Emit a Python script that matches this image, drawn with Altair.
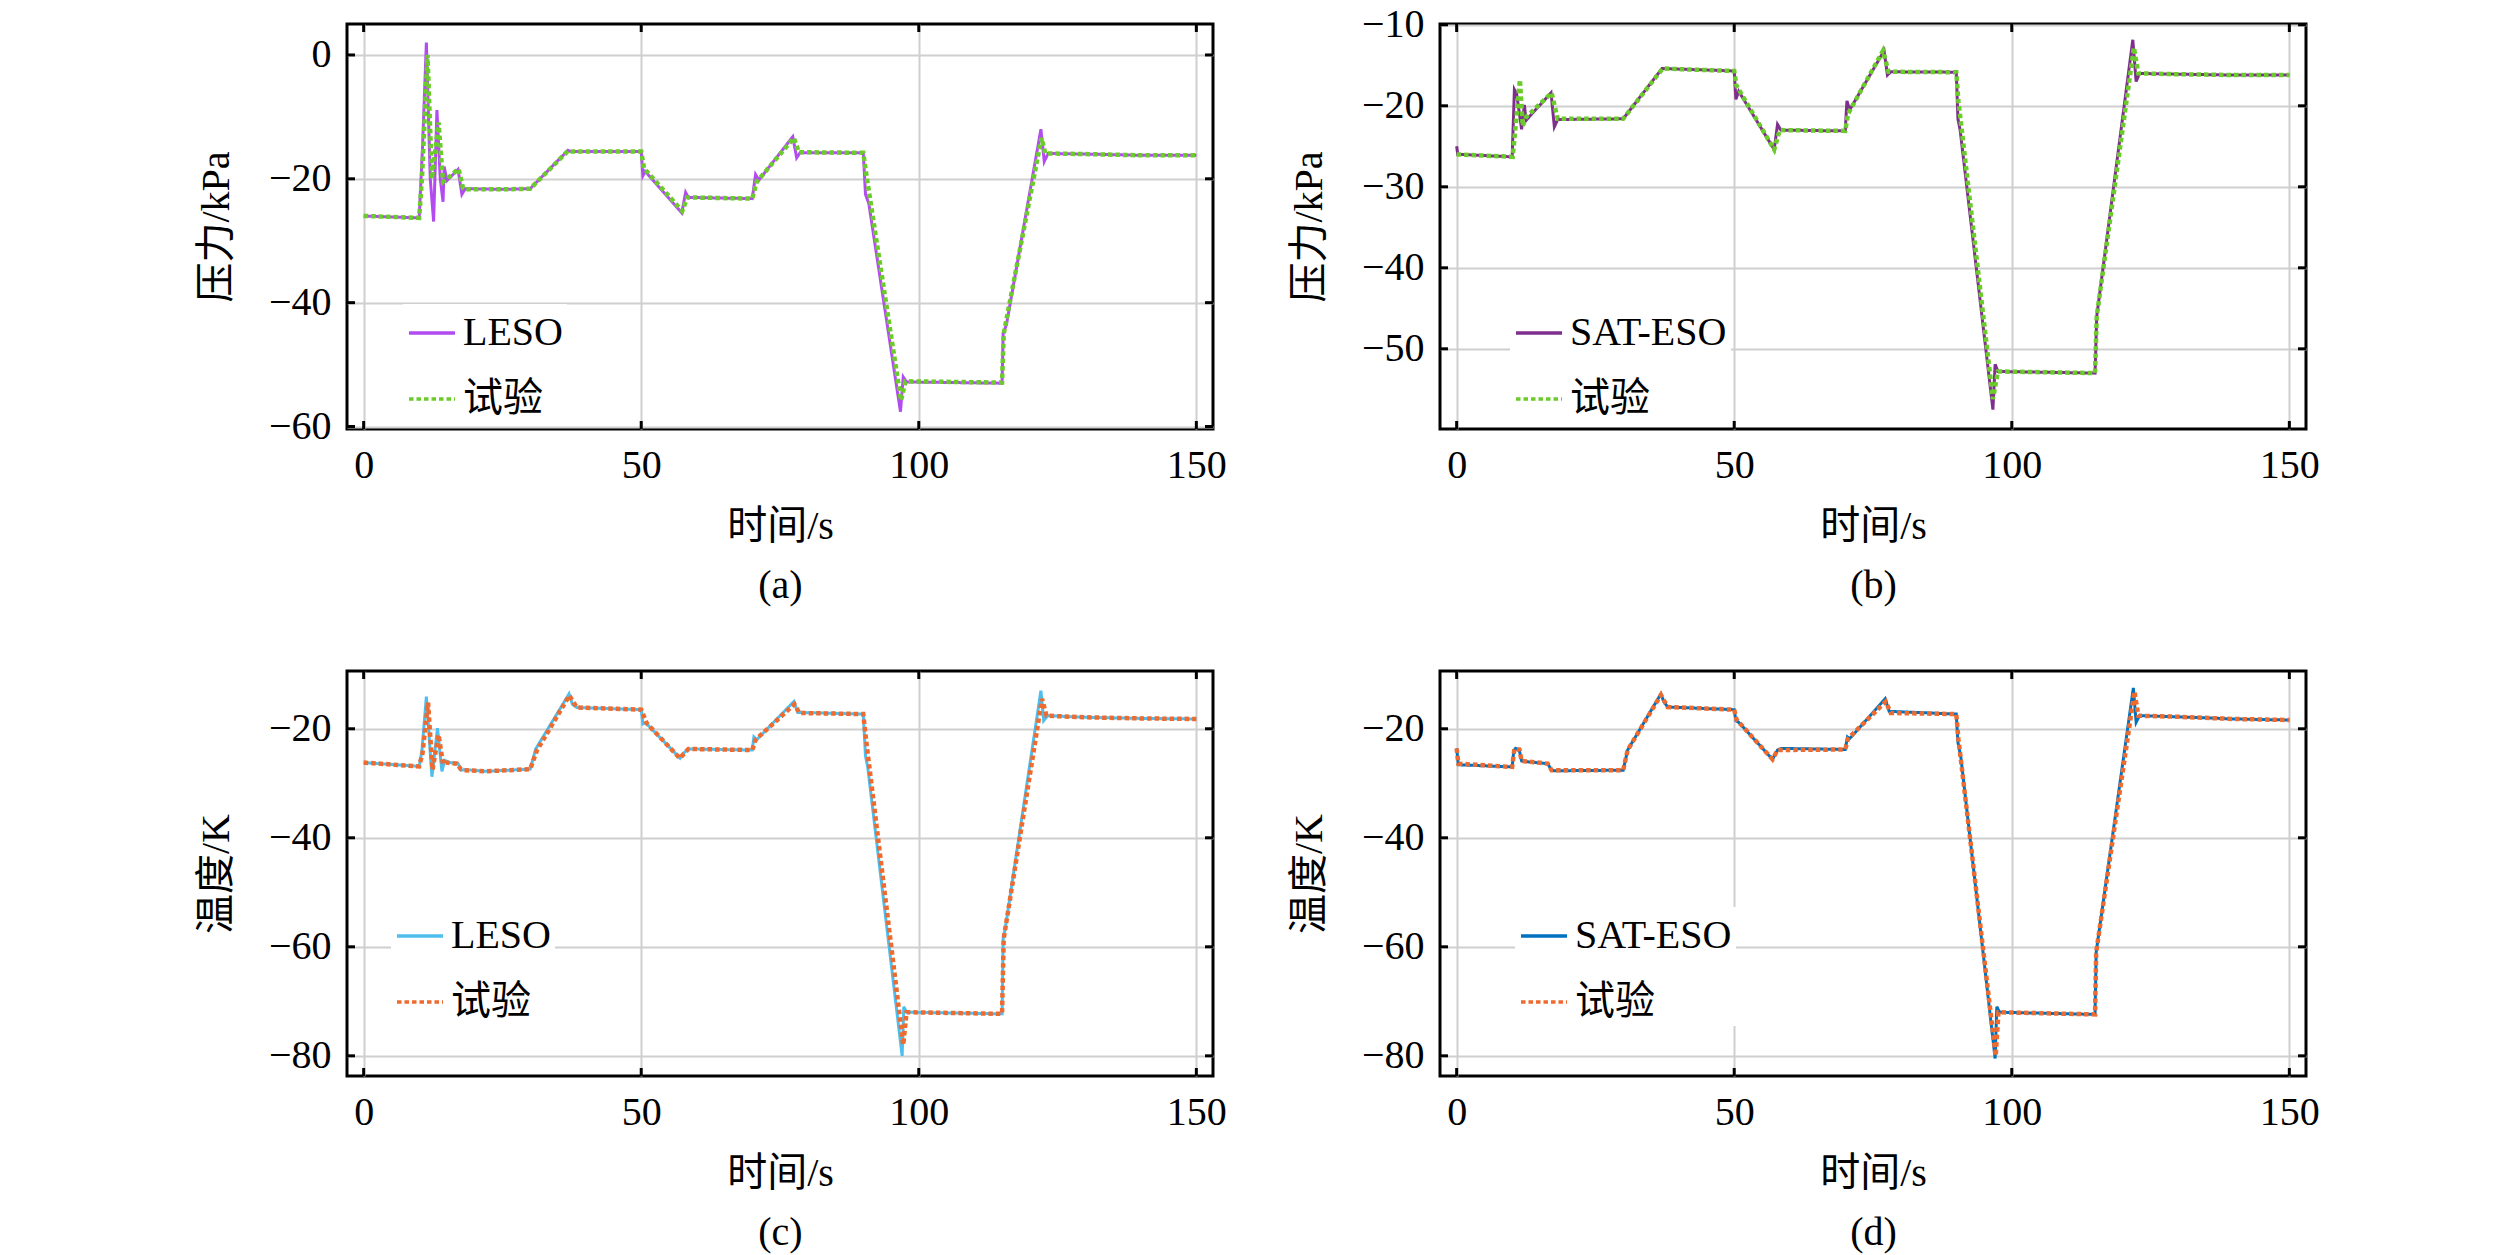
import altair as alt
import pandas as pd

FONT = "Liberation Serif, Noto Sans CJK SC"

# 时间刻度
x_ticks = [0, 50, 100, 150]

# (a) 压力 LESO / 试验
a_est_t = [0, 10, 10.6, 11.3, 12.0, 12.6, 13.2, 13.8, 14.3, 14.5, 15.0, 17.0, 17.7, 18.3, 25, 30, 36.8, 37.3,
           50, 50.3, 50.7, 57.3, 58.0, 58.5, 70, 70.6, 71.2, 77.3, 78.0, 78.6, 90, 90.4, 91, 96.7, 97.2, 97.8,
           115, 115.2, 115.8, 122.0, 122.6, 123.3, 130, 140, 150]
a_est_v = [-26.0, -26.3, -15, 2.0, -20, -26.9, -8.9, -20, -23.7, -18.0, -20.3, -18.5, -22.5, -21.6, -21.7, -21.6,
           -15.4, -15.6, -15.6, -19.5, -18.8, -25.5, -22.2, -23.0, -23.2, -19.3, -20.2, -13.2, -16.6, -15.8,
           -15.8, -22.5, -24, -57.6, -52.0, -52.8, -53.0, -45.0, -43.5, -12.0, -17.2, -15.9, -16.0, -16.2, -16.2]
a_exp_t = [0, 10, 10.5, 11.5, 12.3, 13.5, 14.3, 15.0, 17.1, 17.9, 18.4, 25, 30, 36.8, 37.5, 50, 50.5, 57.4, 58.3,
           70, 70.8, 77.5, 78.4, 90, 90.5, 96.8, 97.6, 115, 115.3, 122.1, 122.8, 130, 140, 150]
a_exp_v = [-26.0, -26.3, -20, 0, -20, -10.9, -20.5, -20.0, -18.4, -21.5, -21.7, -21.7, -21.6, -15.5, -15.6,
           -15.6, -18.3, -25.2, -23.0, -23.2, -20.5, -13.4, -15.7, -15.8, -19.0, -55.8, -52.7, -52.9, -45,
           -13.4, -15.9, -16.0, -16.2, -16.2]

# (b) 压力 SAT-ESO / 试验
b_est_t = [0, 0.2, 0.6, 10, 10.4, 10.8, 11.7, 12.2, 12.5, 13.0, 17.0, 17.6, 18.2, 30, 37.0, 50, 50.3, 50.8,
           57.2, 57.8, 58.4, 70, 70.3, 70.8, 77.0, 77.6, 78.2, 90, 90.3, 90.7, 96.6, 97.0, 97.5, 115, 115.3,
           121.8, 122.4, 123.0, 130, 140, 150]
b_est_v = [-25.0, -26.0, -26.0, -26.3, -18.0, -18.5, -22.9, -19.9, -21.8, -21.4, -18.4, -22.6, -21.7, -21.6,
           -15.4, -15.7, -19.2, -18.2, -25.4, -22.3, -23.0, -23.1, -19.4, -20.5, -13.2, -16.2, -15.8, -15.85,
           -21.6, -23, -57.5, -51.9, -52.8, -53.0, -46, -11.85, -17.0, -16.0, -16.1, -16.2, -16.2]
b_exp_t = [0, 10.1, 11.4, 11.9, 12.5, 17.1, 18.2, 30, 37.1, 50, 50.4, 57.2, 58.2, 70, 70.5, 76.8, 77.8, 90,
           90.4, 96.6, 97.5, 115, 115.3, 122.0, 122.8, 130, 140, 150]
b_exp_v = [-26.0, -26.3, -16.8, -22.5, -21.4, -18.4, -21.6, -21.6, -15.4, -15.7, -17.5, -25.4, -23.0, -23.1,
           -21, -13.2, -15.8, -15.85, -19.5, -56.2, -52.8, -53.0, -46, -12.8, -16.0, -16.1, -16.2, -16.2]

# (c) 温度 LESO / 试验
c_est_t = [0, 10, 10.5, 11.3, 12.3, 13.3, 14.1, 14.6, 15.5, 17.0, 17.6, 18.2, 22, 30, 31, 37.0, 37.6, 38.4,
           50, 50.3, 50.8, 57.0, 57.6, 58.5, 70, 70.3, 70.8, 77.5, 78.2, 90, 90.4, 90.8, 97.0, 97.3, 97.8,
           115, 115.2, 115.6, 122.0, 122.5, 123.2, 130, 140, 150]
c_est_v = [-26.2, -26.9, -24, -14.1, -28.8, -19.9, -27.8, -25.8, -26.2, -26.4, -27.6, -27.5, -27.8, -27.4,
           -23.7, -13.6, -15.5, -16.1, -16.5, -19.1, -18.9, -25.4, -24.5, -23.7, -23.9, -21.5, -22.0, -15.0,
           -17.0, -17.3, -25, -27, -80.0, -71.0, -72.0, -72.3, -58.5, -56.5, -13.0, -18.5, -17.6, -17.9,
           -18.1, -18.2]
c_exp_t = [0, 10, 10.6, 11.6, 12.4, 13.5, 14.3, 14.8, 16.8, 17.5, 18.0, 22, 30, 31.2, 37.05, 38.4, 50, 51,
           56.95, 58.5, 70, 70.6, 77.6, 78.5, 90, 90.5, 97.2, 97.8, 115, 115.3, 122.2, 123.0, 130, 140, 150]
c_exp_v = [-26.2, -26.9, -24.5, -15.2, -27.5, -21.1, -26.5, -26.2, -26.4, -27.4, -27.6, -27.8, -27.4, -24.0,
           -13.9, -16.1, -16.5, -19.0, -25.4, -23.7, -23.9, -22, -15.5, -17.1, -17.3, -22, -78.0, -72.0,
           -72.3, -58.5, -14.5, -17.6, -17.9, -18.1, -18.2]

# (d) 温度 SAT-ESO / 试验
d_est_t = [0, 0.3, 10, 10.3, 10.6, 11.3, 11.7, 12.2, 16.4, 17.1, 17.6, 30, 30.8, 36.8, 37.3, 38, 50, 50.3,
           50.8, 56.9, 57.8, 58.5, 70, 70.4, 70.8, 77.2, 77.9, 90, 90.3, 90.8, 97.0, 97.3, 97.8, 115, 115.2,
           121.9, 122.4, 123.0, 130, 140, 150]
d_est_v = [-23.6, -26.6, -27.0, -24, -23.6, -24.0, -25.9, -26.0, -26.4, -27.6, -27.7, -27.6, -23.9, -13.6,
           -15.0, -16.0, -16.5, -18.5, -18.8, -25.6, -23.9, -23.6, -23.8, -21.5, -21.8, -14.5, -16.8, -17.3,
           -22.5, -25, -80.5, -71.0, -72.0, -72.4, -61, -12.5, -18.8, -17.6, -17.8, -18.2, -18.4]
d_exp_t = [0, 0.3, 10, 10.4, 11.3, 11.7, 16.4, 17.1, 30, 30.8, 36.8, 38, 50, 50.4, 56.9, 57.8, 70, 70.5, 77.3,
           78.2, 90, 90.4, 97.1, 97.6, 115, 115.2, 122.1, 122.8, 130, 140, 150]
d_exp_v = [-23.6, -26.4, -27.0, -23.7, -23.8, -25.9, -26.4, -27.6, -27.6, -23.9, -13.8, -16.0, -16.5, -18.3,
           -25.6, -23.9, -23.8, -21.8, -15.0, -17.1, -17.3, -22.0, -80.0, -72.0, -72.4, -61, -13.2, -17.6,
           -17.8, -18.2, -18.4]

W, H = 866, 405


def panel(est_t, est_v, exp_t, exp_v, est_name, est_color, exp_color,
          ydom, yticks, ytitle, caption, lx, ly):
    est = pd.DataFrame({"t": est_t, "v": est_v, "s": est_name})
    exp = pd.DataFrame({"t": exp_t, "v": exp_v, "s": "试验"})
    dom = [est_name, "试验"]
    leg = alt.Legend(title=None, orient="none", legendX=lx, legendY=ly, symbolType="stroke",
                     symbolSize=2116, symbolStrokeWidth=3.5, labelFont=FONT, labelFontSize=40,
                     labelColor="black", labelOffset=6, rowPadding=21, padding=4, fillColor="white")
    color = alt.Color("s:N", scale=alt.Scale(domain=dom, range=[est_color, exp_color]), legend=leg)
    dash = alt.StrokeDash("s:N", scale=alt.Scale(domain=dom, range=[[1, 0], [4.5, 3]]), legend=leg)
    x = alt.X("t:Q", scale=alt.Scale(domain=[-3, 153], nice=False, zero=False),
              axis=alt.Axis(values=x_ticks, title=["时间/s", caption], titleLineHeight=59,
                            titlePadding=21, labelPadding=16))
    y = alt.Y("v:Q", scale=alt.Scale(domain=ydom, nice=False, zero=False),
              axis=alt.Axis(values=yticks, title=ytitle, titlePadding=32, labelPadding=16))
    l1 = alt.Chart(est).mark_line(strokeWidth=3).encode(x=x, y=y, color=color, strokeDash=dash)
    l2 = alt.Chart(exp).mark_line(strokeWidth=4.5).encode(x="t:Q", y="v:Q", color=color, strokeDash=dash)
    xt = pd.DataFrame({"t": x_ticks})
    yt = pd.DataFrame({"v": yticks})
    tk = {"color": "black", "strokeWidth": 3}
    tb = alt.Chart(xt).mark_rule(**tk).encode(x="t:Q", y=alt.value(H), y2=alt.value(H - 8))
    tt = alt.Chart(xt).mark_rule(**tk).encode(x="t:Q", y=alt.value(0), y2=alt.value(8))
    tl = alt.Chart(yt).mark_rule(**tk).encode(y="v:Q", x=alt.value(0), x2=alt.value(8))
    tr = alt.Chart(yt).mark_rule(**tk).encode(y="v:Q", x=alt.value(W), x2=alt.value(W - 8))
    return alt.layer(l1, l2, tb, tt, tl, tr).properties(width=W, height=H)


pa = panel(a_est_t, a_est_v, a_exp_t, a_exp_v, "LESO", "#B34CF0", "#6ACB2A",
           [-60.4, 5.0], [-60, -40, -20, 0], "压力/kPa", "(a)", 56, 280)
pb = panel(b_est_t, b_est_v, b_exp_t, b_exp_v, "SAT-ESO", "#7E2F8E", "#6ACB2A",
           [-59.9, -9.9], [-50, -40, -30, -20, -10], "压力/kPa", "(b)", 70, 280)
pc = panel(c_est_t, c_est_v, c_exp_t, c_exp_v, "LESO", "#4DBEEE", "#EE6A2F",
           [-83.7, -9.4], [-80, -60, -40, -20], "温度/K", "(c)", 44, 236)
pd_ = panel(d_est_t, d_est_v, d_exp_t, d_exp_v, "SAT-ESO", "#0072BD", "#EE6A2F",
            [-83.7, -9.4], [-80, -60, -40, -20], "温度/K", "(d)", 75, 236)

chart = (
    alt.concat(pa, pb, pc, pd_, columns=2, bounds="flush", spacing={"row": 242, "column": 227})
    .resolve_scale(color="independent", strokeDash="independent")
    .properties(padding={"left": 186, "top": -5, "right": 0, "bottom": 0})
    .configure_view(stroke="black", strokeWidth=3)
    .configure_axis(domain=False, ticks=False, grid=True, gridColor="#cfcfcf", gridWidth=2,
                    labelFont=FONT, labelFontSize=40, labelColor="black",
                    titleFont=FONT, titleFontSize=40, titleFontWeight="normal", titleColor="black")
)

chart.save("out.html", embed_options={"renderer": "svg", "actions": False})
